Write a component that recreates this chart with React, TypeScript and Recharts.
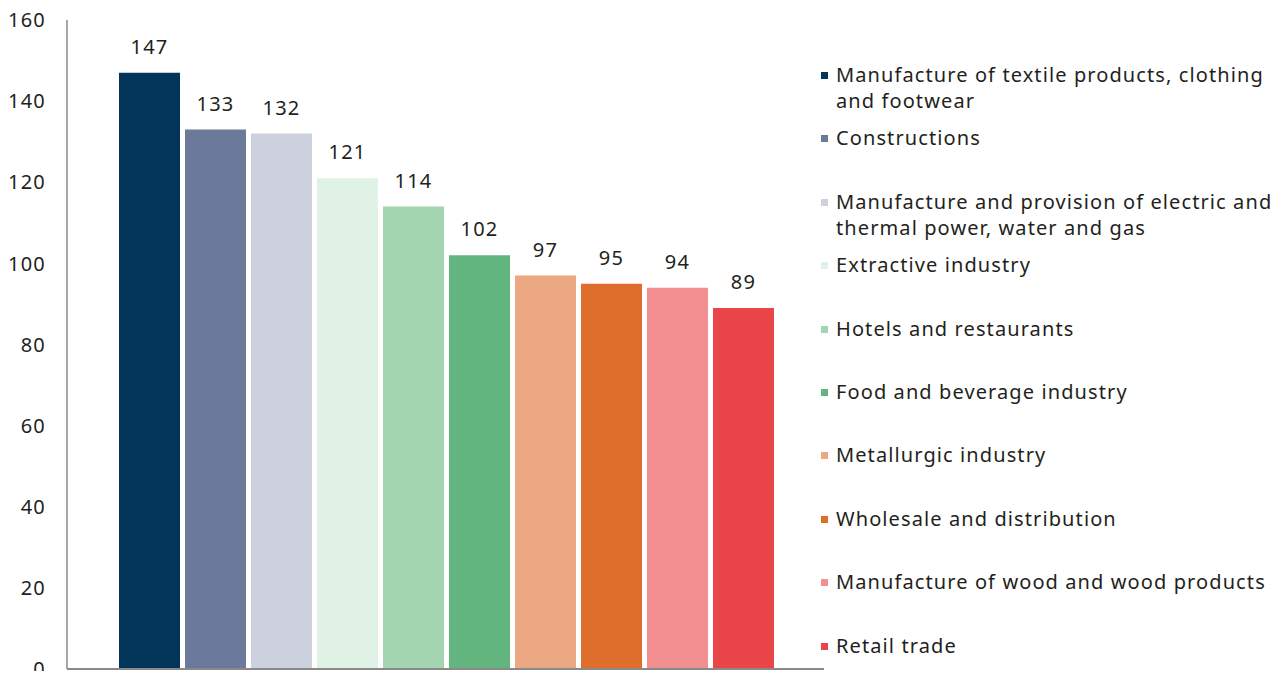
import React from 'react';
import { BarChart, Bar, XAxis, YAxis, LabelList } from 'recharts';

const sectors = [
  'Manufacture of textile products, clothing\nand footwear',
  'Constructions',
  'Manufacture and provision of electric and\nthermal power, water and gas',
  'Extractive industry',
  'Hotels and restaurants',
  'Food and beverage industry',
  'Metallurgic industry',
  'Wholesale and distribution',
  'Manufacture of wood and wood products',
  'Retail trade',
];
const values = [147, 133, 132, 121, 114, 102, 97, 95, 94, 89];
const colors = [
  '#03355b', '#6b7a9a', '#cdd1de', '#e0f1e6', '#a2d5b0',
  '#62b57f', '#eca883', '#df6e2d', '#f28f91', '#ea4548',
];
const yTicks = [0, 20, 40, 60, 80, 100, 120, 140, 160];

const keys = values.map((_, i) => `s${i}`);
const row: Record<string, number | string> = { group: 'all' };
keys.forEach((k, i) => {
  row[k] = values[i];
});
const data = [row];

const FONT = '"Noto Sans", sans-serif';
const TEXT = '#231f20';

// plain svg text so the end ticks aren't squeezed
const YTick = (props: any) => {
  const { x, y, payload } = props;
  return (
    <text
      x={x}
      y={y}
      dy="0.36em"
      textAnchor="end"
      fill={TEXT}
      fontSize={20}
      fontFamily={FONT}
      letterSpacing={1.2}
    >
      {payload.value}
    </text>
  );
};

export default function App() {
  return (
    <div style={{ position: 'relative', width: 1268, height: 663, fontFamily: FONT }}>
      {/* no scrollbars: the svg reaches the bottom edge of the window */}
      <style>{'html,body{overflow:hidden}.recharts-surface{display:block;overflow:visible}'}</style>
      <BarChart
        width={1268}
        height={671}
        data={data}
        margin={{ top: 12, right: 452, bottom: 8, left: 0 }}
        barCategoryGap={52}
        barGap={5}
      >
        <XAxis
          dataKey="group"
          tick={false}
          tickLine={false}
          height={2}
          axisLine={{ stroke: '#8a8a8a', strokeWidth: 2 }}
        />
        <YAxis
          domain={[0, 160]}
          ticks={yTicks}
          interval={0}
          width={59}
          tickLine={false}
          tickSize={0}
          tickMargin={21}
          axisLine={{ stroke: '#8a8a8a', strokeWidth: 1.5 }}
          tick={<YTick />}
        />
        {keys.map((k, i) => (
          <Bar
            key={k}
            dataKey={k}
            name={sectors[i]}
            fill={colors[i]}
            isAnimationActive={false}
          >
            <LabelList
              dataKey={k}
              position="top"
              offset={19}
              fill={TEXT}
              fontSize={20}
              fontFamily={FONT}
              letterSpacing={1.2}
            />
          </Bar>
        ))}
      </BarChart>

      {/* legend */}
      {sectors.map((s, i) => (
        <div
          key={s}
          style={{
            position: 'absolute',
            left: 812,
            top: 54 + i * 63.4,
            display: 'flex',
            alignItems: 'flex-start',
          }}
        >
          <span
            style={{
              width: 7,
              height: 7,
              marginTop: 10,
              marginLeft: 1,
              marginRight: 8,
              background: colors[i],
              flex: 'none',
            }}
          />
          <span
            style={{
              whiteSpace: 'pre',
              fontSize: 20,
              letterSpacing: 1.1,
              lineHeight: '26px',
              color: TEXT,
            }}
          >
            {s}
          </span>
        </div>
      ))}
    </div>
  );
}
